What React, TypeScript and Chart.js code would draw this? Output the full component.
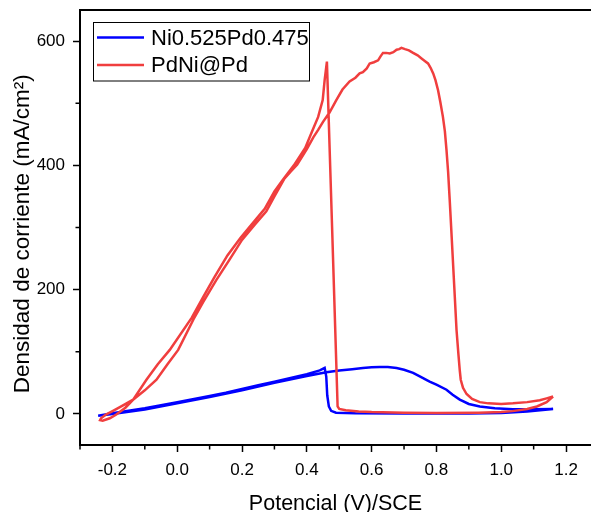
import { useEffect, useRef } from 'react';
import { Chart, registerables } from 'chart.js';

Chart.register(...registerables);

const FONT = "'Liberation Sans', Arial, sans-serif";

const seriesLabels = ['Ni0.525Pd0.475', 'PdNi@Pd'];

// Ni0.525Pd0.475 (closed CV loop)
const blueX = [
  -0.244, -0.2, -0.15, -0.1, -0.05, 0, 0.04, 0.1, 0.15, 0.2, 0.25, 0.3, 0.35, 0.4, 0.44, 0.455,
  0.46, 0.463, 0.468, 0.475, 0.49, 0.55, 0.7, 0.9, 1.0, 1.08, 1.16,
  1.1, 1.036, 0.98, 0.934, 0.9, 0.872, 0.85, 0.831, 0.8, 0.779, 0.75, 0.728, 0.7, 0.677, 0.65,
  0.625, 0.6, 0.573, 0.54, 0.5, 0.46, 0.4, 0.3, 0.2, 0.1, 0, -0.1, -0.2, -0.244,
];
const blueY = [
  -3, 1, 5, 9, 14, 19, 23, 29, 34, 40, 46, 52, 58, 64, 70, 74,
  60, 30, 12, 5, 2, 1, 0.5, 0.5, 1.5, 4, 8,
  7.5, 7.5, 9, 12, 16, 23, 31, 39, 47, 52, 60, 66, 71, 74, 75.5,
  75.5, 75, 74, 72, 70, 67, 61, 50, 38, 27, 17, 7, 0, -3,
];

// PdNi@Pd (closed CV loop)
const redX = [
  1.16, 1.14, 1.119, 1.08, 1.036, 1.0, 0.96, 0.934, 0.91, 0.893, 0.882, 0.875, 0.872, 0.868, 0.862,
  0.855, 0.848, 0.841, 0.836, 0.831, 0.826, 0.82, 0.812, 0.805, 0.797, 0.79, 0.782, 0.774, 0.764,
  0.754, 0.742, 0.728, 0.715, 0.703, 0.692, 0.685, 0.677, 0.667, 0.656, 0.645, 0.635, 0.627, 0.62,
  0.607, 0.594, 0.585, 0.573, 0.563, 0.55, 0.532, 0.51, 0.491, 0.47, 0.45, 0.435, 0.42, 0.4, 0.37,
  0.35, 0.33, 0.3, 0.275, 0.24, 0.2, 0.16, 0.12, 0.08, 0.05, 0.003, -0.03, -0.064, -0.1, -0.136,
  -0.17, -0.198, -0.22, -0.235, -0.238, -0.23, -0.208, -0.188, -0.16, -0.136,
  -0.095, -0.06, -0.023, 0.045, 0.08, 0.115, 0.155, 0.195, 0.23, 0.27, 0.3, 0.325, 0.36, 0.395,
  0.418, 0.435, 0.449, 0.455, 0.462, 0.478, 0.495, 0.5, 0.52, 0.56, 0.6, 0.7, 0.8, 0.93, 1.0,
  1.035, 1.08, 1.11, 1.14, 1.16,
];
const redY = [
  28, 25, 22, 19, 17, 16, 17, 19, 24, 32, 42, 55, 70, 95, 135,
  205, 275, 344, 390, 425, 455, 478, 502, 521, 537, 548, 557, 564, 568,
  572, 577, 581, 585, 587, 589, 587, 586, 582, 580, 581, 581, 575, 569,
  566, 564, 556, 550, 548, 541, 535, 522, 505, 485, 470, 457, 445, 426, 401,
  390, 378, 350, 326, 305, 280, 247, 215, 180, 152, 103, 80, 55, 38, 23,
  13, 5, -1, -7, -10, -11, -7, -1, 10, 23,
  55, 80, 103, 155, 188, 220, 255, 283, 305, 330, 358, 376, 400, 428,
  457, 478, 505, 537, 567, 300, 12, 8, 6, 4, 3, 2, 1.5, 2, 3,
  4.5, 8, 12, 19, 28,
];

const seriesColors = ['#0000FF', 'rgb(240,62,62)'];

const xMajorTicks = [-0.2, 0, 0.2, 0.4, 0.6, 0.8, 1.0, 1.2];
const xMinorTicks = [-0.3, -0.1, 0.1, 0.3, 0.5, 0.7, 0.9, 1.1];
const yMajorTicks = [0, 200, 400, 600];
const yMinorTicks = [100, 300, 500];

const decorPlugin = {
  id: 'decor',
  afterDraw(chart: any) {
    const { ctx, chartArea } = chart;
    const xs = chart.scales.x;
    const ys = chart.scales.y;
    ctx.save();
    ctx.strokeStyle = '#000';
    // top frame line
    ctx.lineWidth = 2;
    ctx.beginPath();
    ctx.moveTo(chartArea.left, chartArea.top);
    ctx.lineTo(chartArea.right, chartArea.top);
    ctx.stroke();
    // minor ticks
    ctx.lineWidth = 1.5;
    ctx.beginPath();
    xMinorTicks.forEach((v) => {
      const p = xs.getPixelForValue(v);
      ctx.moveTo(p, chartArea.bottom);
      ctx.lineTo(p, chartArea.bottom + 4.5);
    });
    yMinorTicks.forEach((v) => {
      const p = ys.getPixelForValue(v);
      ctx.moveTo(chartArea.left - 4.5, p);
      ctx.lineTo(chartArea.left, p);
    });
    ctx.stroke();
    // legend
    const bx = 93.5, by = 22.5, bw = 216, bh = 58.5;
    ctx.fillStyle = '#fff';
    ctx.fillRect(bx, by, bw, bh);
    ctx.lineWidth = 1;
    ctx.strokeRect(bx, by, bw, bh);
    const rows = [37.5, 65];
    chart.data.datasets.forEach((ds: any, i: number) => {
      const yy = rows[i];
      ctx.strokeStyle = ds.borderColor;
      ctx.lineWidth = 2.5;
      ctx.beginPath();
      ctx.moveTo(97, yy);
      ctx.lineTo(144, yy);
      ctx.stroke();
      ctx.fillStyle = '#000';
      ctx.font = `22px ${FONT}`;
      ctx.textBaseline = 'middle';
      ctx.textAlign = 'left';
      ctx.fillText(ds.label, 151, yy + 1);
    });
    ctx.restore();
  },
};

export default function App() {
  const ref = useRef<HTMLCanvasElement | null>(null);
  useEffect(() => {
    document.body.style.margin = '0';
    const canvas = ref.current;
    if (!canvas) return;
    const mk = (xa: number[], ya: number[]) => xa.map((x, i) => ({ x, y: ya[i] }));
    const chart = new Chart(canvas, {
      type: 'scatter',
      data: {
        datasets: [
          {
            label: seriesLabels[0],
            data: mk(blueX, blueY),
            borderColor: seriesColors[0],
            backgroundColor: seriesColors[0],
            showLine: true,
            pointRadius: 0,
            borderWidth: 2.5,
            tension: 0,
            order: 1,
          },
          {
            label: seriesLabels[1],
            data: mk(redX, redY),
            borderColor: seriesColors[1],
            backgroundColor: seriesColors[1],
            showLine: true,
            pointRadius: 0,
            borderWidth: 2.5,
            tension: 0,
            order: 0,
          },
        ],
      },
      options: {
        animation: false,
        responsive: false,
        layout: { padding: { top: 10, left: 0, right: 0, bottom: 0 } },
        plugins: { legend: { display: false }, tooltip: { enabled: false } },
        scales: {
          x: {
            type: 'linear',
            min: -0.3,
            max: 1.277,
            afterBuildTicks: (s: any) => {
              s.ticks = xMajorTicks.map((v) => ({ value: v }));
            },
            afterFit: (s: any) => {
              s.height = 67;
              s.paddingLeft = 0;
              s.paddingRight = 0;
            },
            ticks: {
              autoSkip: false,
              maxRotation: 0,
              padding: 8,
              color: '#000',
              font: { size: 17, family: FONT },
              callback: (v: any) => Number(v).toFixed(1),
            },
            grid: { drawOnChartArea: false, tickLength: 7, tickWidth: 1.5, tickColor: '#000' },
            border: { display: true, color: '#000', width: 2 },
            title: {
              display: true,
              text: 'Potencial (V)/SCE',
              color: '#000',
              font: { size: 21.5, family: FONT, lineHeight: 1 },
              padding: { top: 0, bottom: -3 },
            },
          },
          y: {
            type: 'linear',
            min: -50,
            max: 650,
            afterBuildTicks: (s: any) => {
              s.ticks = yMajorTicks.map((v) => ({ value: v }));
            },
            afterFit: (s: any) => {
              s.width = 80;
              s.paddingTop = 0;
              s.paddingBottom = 0;
            },
            ticks: {
              autoSkip: false,
              padding: 8,
              color: '#000',
              font: { size: 17, family: FONT },
              callback: (v: any) => String(v),
            },
            grid: { drawOnChartArea: false, tickLength: 7, tickWidth: 1.5, tickColor: '#000' },
            border: { display: true, color: '#000', width: 2 },
            title: {
              display: true,
              text: 'Densidad de corriente (mA/cm²)  ',
              color: '#000',
              font: { size: 22.5, family: FONT, lineHeight: 1 },
              padding: { top: 12, bottom: 0 },
            },
          },
        },
      },
      plugins: [decorPlugin],
    } as any);
    return () => chart.destroy();
  }, []);
  return (
    <div style={{ width: 591, height: 512 }}>
      <canvas ref={ref} width={591} height={512} style={{ display: 'block' }} />
    </div>
  );
}
